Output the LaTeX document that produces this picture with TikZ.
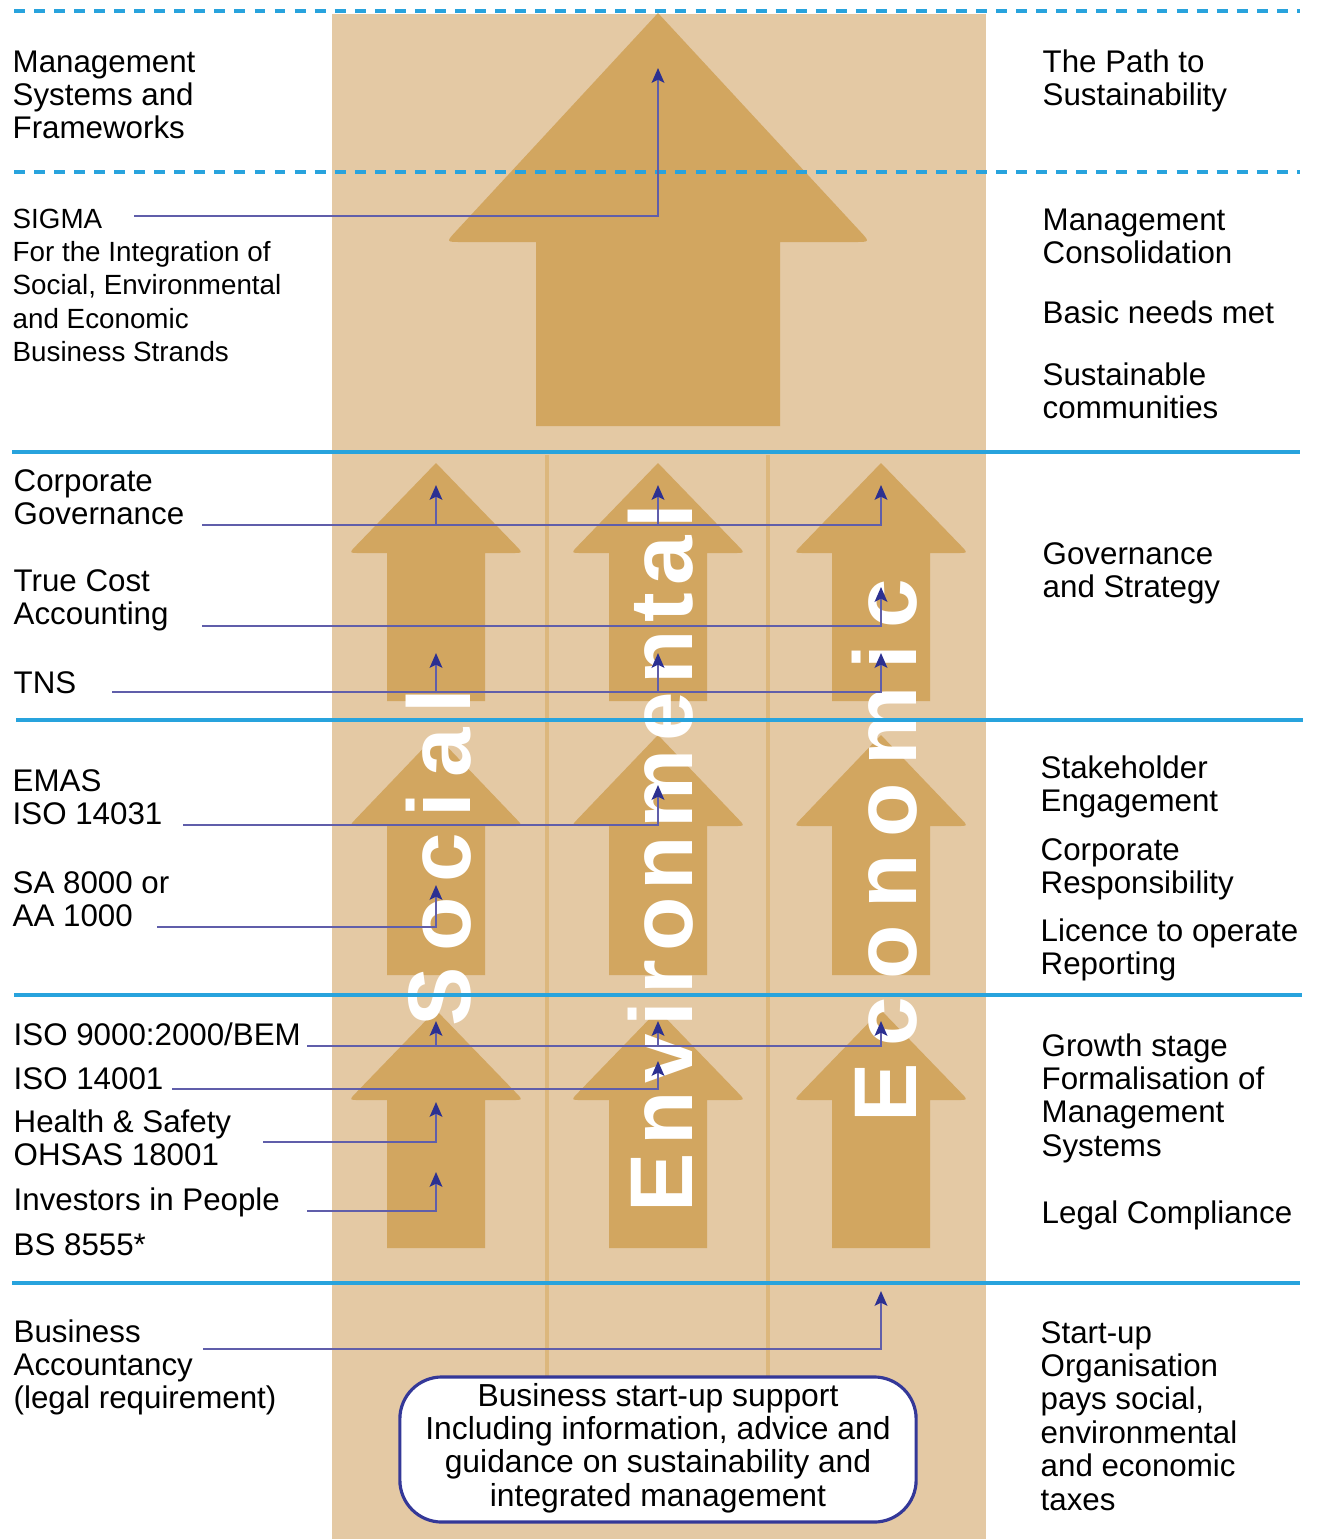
\documentclass[tikz,border=0pt]{standalone}
\usepackage{fontspec}
\setmainfont{Liberation Sans}
\usetikzlibrary{arrows.meta}

\definecolor{band}{RGB}{228,201,164}
\definecolor{arrowtan}{RGB}{210,166,96}
\definecolor{divider}{RGB}{220,183,125}
\definecolor{rulecol}{RGB}{40,163,221}
\definecolor{link}{RGB}{96,94,170}
\definecolor{linkhead}{RGB}{44,48,145}
\definecolor{boxline}{RGB}{52,56,152}

% stacked lines whose baseline is the baseline of the first line
\newcommand\txtlines[1]{\begin{tabular}[t]{@{}l@{}}#1\end{tabular}}

% block arrow pointing up: centre x, tip y, head base y, bottom y,
% head half width, shaft half width, fillet at the head corners
\newcommand\uparrowshape[7]{%
  \fill[arrowtan]
    ({#1-#6},#4) -- ({#1-#6},#3) -- ({#1-#5+#7},#3)
    .. controls ({#1-#5},#3) .. ({#1-#5+#7*#5/veclen(#5,#3-#2)},{#3-#7*(#3-#2)/veclen(#5,#3-#2)})
    -- (#1,#2)
    -- ({#1+#5-#7*#5/veclen(#5,#3-#2)},{#3-#7*(#3-#2)/veclen(#5,#3-#2)})
    .. controls ({#1+#5},#3) .. ({#1+#5-#7},#3)
    -- ({#1+#6},#3) -- ({#1+#6},#4) -- cycle;}

\begin{document}
\begin{tikzpicture}[x=0.01cm,y=-0.01cm,
  sepline/.style={draw=rulecol, line width=1pt},
  sepdash/.style={draw=rulecol, line width=1.1pt, dash pattern=on 3.1pt off 2.6pt},
  conn/.style={draw=link, line width=0.65pt,
    -{Stealth[length=4.2pt,width=3.6pt,inset=0.9pt,color=linkhead]}},
  lab/.style={anchor=base west, inner sep=0pt, font=\fontsize{8.9pt}{9.5pt}\selectfont},
  labsmall/.style={lab, font=\fontsize{7.9pt}{9.5pt}\selectfont},
  word/.style={rotate=90, anchor=base west, inner sep=0pt, text=white,
    font=\fontsize{25.3pt}{26pt}\selectfont\bfseries\addfontfeature{LetterSpace=#1}},
]
\useasboundingbox (0,0) rectangle (1319,1539);

% central band and column dividers
\fill[band] (332,14) rectangle (986,1539);
\draw[divider, line width=1.4pt] (547,455) -- (547,1377);
\draw[divider, line width=1.4pt] (768,455) -- (768,1377);

% block arrows
\uparrowshape{658}{13}{242}{426}{212}{122}{15}
\foreach \t/\b/\e in {463/553/701, 735/826/975, 1010/1100/1248}{
  \foreach \c in {436,658,881}{
    \uparrowshape{\c}{\t}{\b}{\e}{87}{49}{10}
  }
}

% column words
\node[word=17] (wSocial) at (470,1027) {Social};
\node[word=8.5] (wEnv) at (692,1213) {Environmental};
\node[word=19] (wEcon) at (916,1123) {Economic};

% stage separators
\draw[sepdash] (14,11) -- (1300,11);
\draw[sepdash] (14,172) -- (1300,172);
\draw[sepline] (12,452) -- (1300,452);
\draw[sepline] (16,720) -- (1303,720);
\draw[sepline] (14,995) -- (1302,995);
\draw[sepline] (12,1283) -- (1300,1283);

% connectors
\coordinate (sigmaS) at (134,216);  \coordinate (sigmaT) at (658,68);
\draw[conn] (sigmaS) -| (sigmaT);

\coordinate (cgS) at (202,525);     \coordinate (cgT3) at (881,485);
\coordinate (cgJ1) at (436,525);    \coordinate (cgT1) at (436,485);
\coordinate (cgJ2) at (658,525);    \coordinate (cgT2) at (658,485);
\draw[conn] (cgS) -| (cgT3);
\draw[conn] (cgJ1) -- (cgT1);
\draw[conn] (cgJ2) -- (cgT2);

\coordinate (tcS) at (202,626);     \coordinate (tcT) at (881,587);
\draw[conn] (tcS) -| (tcT);

\coordinate (tnsS) at (112,692);    \coordinate (tnsT3) at (881,653);
\coordinate (tnsJ1) at (436,692);   \coordinate (tnsT1) at (436,653);
\coordinate (tnsJ2) at (658,692);   \coordinate (tnsT2) at (658,653);
\draw[conn] (tnsS) -| (tnsT3);
\draw[conn] (tnsJ1) -- (tnsT1);
\draw[conn] (tnsJ2) -- (tnsT2);

\coordinate (emasS) at (183,825);   \coordinate (emasT) at (658,785);
\draw[conn] (emasS) -| (emasT);

\coordinate (saS) at (157,927);     \coordinate (saT) at (436,885);
\draw[conn] (saS) -| (saT);

\coordinate (isoS) at (307,1046);   \coordinate (isoT3) at (881,1021);
\coordinate (isoJ1) at (436,1046);  \coordinate (isoT1) at (436,1021);
\coordinate (isoJ2) at (658,1046);  \coordinate (isoT2) at (658,1021);
\draw[conn] (isoS) -| (isoT3);
\draw[conn] (isoJ1) -- (isoT1);
\draw[conn] (isoJ2) -- (isoT2);

\coordinate (envS) at (172,1089);   \coordinate (envT) at (658,1061);
\draw[conn] (envS) -| (envT);

\coordinate (hsS) at (263,1142);    \coordinate (hsT) at (436,1102);
\draw[conn] (hsS) -| (hsT);

\coordinate (iipS) at (307,1211);   \coordinate (iipT) at (436,1172);
\draw[conn] (iipS) -| (iipT);

\coordinate (baS) at (203,1349);    \coordinate (baT) at (881,1291);
\draw[conn] (baS) -| (baT);

% start-up support box
\node[draw=boxline, line width=0.9pt, fill=white, rounded corners=0.42cm,
      minimum width=5.16cm, minimum height=1.45cm, inner sep=0pt,
      font=\fontsize{9.05pt}{9.47pt}\selectfont] (support) at (658,1449.5)
  {\begin{tabular}{@{}c@{}}Business start-up support\\Including information, advice and\\guidance on sustainability and\\integrated management\end{tabular}};

% left column
\node[lab] (lMgmt) at (12,72) {\txtlines{Management\\Systems and\\Frameworks}};
\node[labsmall] (lSigma) at (12,228) {\txtlines{SIGMA\\For the Integration of\\Social, Environmental\\and Economic\\Business Strands}};
\node[lab] (lCG) at (13,491) {\txtlines{Corporate\\Governance}};
\node[lab] (lTC) at (13,591) {\txtlines{True Cost\\Accounting}};
\node[lab] (lTNS) at (13,693) {TNS};
\node[lab] (lEMAS) at (12,791) {\txtlines{EMAS\\ISO 14031}};
\node[lab] (lSA) at (12,893) {\txtlines{SA 8000 or\\AA 1000}};
\node[lab] (lISO) at (13,1045) {ISO 9000:2000/BEM};
\node[lab] (lENV) at (13,1089) {ISO 14001};
\node[lab] (lHS) at (13,1132) {\txtlines{Health \& Safety\\OHSAS 18001}};
\node[lab] (lIIP) at (13,1210) {Investors in People};
\node[lab] (lBS) at (13,1255) {BS 8555*};
\node[lab] (lBA) at (13,1342) {\txtlines{Business\\Accountancy\\(legal requirement)}};

% right column
\node[lab] (rPath) at (1042,72) {\txtlines{The Path to\\Sustainability}};
\node[lab] (rMC) at (1042,230) {\txtlines{Management\\Consolidation}};
\node[lab] (rBasic) at (1042,323) {Basic needs met};
\node[lab] (rSC) at (1042,385) {\txtlines{Sustainable\\communities}};
\node[lab] (rGS) at (1042,564) {\txtlines{Governance\\and Strategy}};
\node[lab] (rSE) at (1040,778) {\txtlines{Stakeholder\\Engagement}};
\node[lab] (rCR) at (1040,860) {\txtlines{Corporate\\Responsibility}};
\node[lab] (rLO) at (1040,941) {\txtlines{Licence to operate\\Reporting}};
\node[lab] (rGr) at (1041,1056) {\txtlines{Growth stage\\Formalisation of\\Management\\Systems}};
\node[lab] (rLC) at (1041,1223) {Legal Compliance};
\node[lab] (rSU) at (1040,1343) {\txtlines{Start-up\\Organisation\\pays social,\\environmental\\and economic\\taxes}};
\end{tikzpicture}
\end{document}
